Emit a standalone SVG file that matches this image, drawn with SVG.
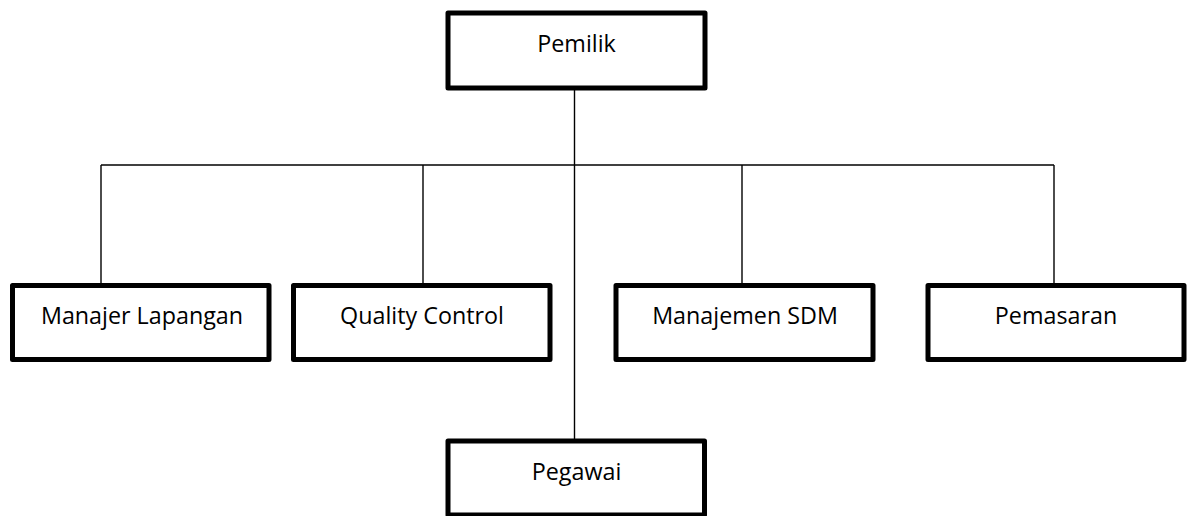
<svg xmlns="http://www.w3.org/2000/svg" width="1192" height="516" viewBox="0 0 1192 516">
<style>
.box{fill:#fff;stroke:#000;stroke-width:5;stroke-linejoin:round}
.lbl{font-family:"Open Sans","Liberation Sans",sans-serif;font-size:23.3px;fill:#000;text-anchor:middle}
.conn{stroke:#000;stroke-width:1.4;fill:none}
</style>
<rect width="1192" height="516" fill="#fff"/>
<g id="connectors">
<line class="conn" x1="574.5" y1="90" x2="574.5" y2="441"/>
<line class="conn" x1="101" y1="165" x2="1054" y2="165"/>
<line class="conn" x1="101" y1="165" x2="101" y2="284"/>
<line class="conn" x1="423" y1="165" x2="423" y2="284"/>
<line class="conn" x1="742" y1="165" x2="742" y2="284"/>
<line class="conn" x1="1054" y1="165" x2="1054" y2="284"/>
</g>
<g id="pemilik">
<rect class="box" x="448" y="13" width="257" height="75"/>
<text class="lbl" x="576.5" y="52">Pemilik</text>
</g>
<g id="manajer-lapangan">
<rect class="box" x="12.5" y="285.5" width="256.5" height="74"/>
<text class="lbl" x="142" y="324">Manajer Lapangan</text>
</g>
<g id="quality-control">
<rect class="box" x="293.5" y="285.5" width="256.5" height="74"/>
<text class="lbl" x="422" y="324">Quality Control</text>
</g>
<g id="manajemen-sdm">
<rect class="box" x="616" y="285.5" width="257" height="74"/>
<text class="lbl" x="745" y="324">Manajemen SDM</text>
</g>
<g id="pemasaran">
<rect class="box" x="928" y="285.5" width="256" height="74"/>
<text class="lbl" x="1056" y="324">Pemasaran</text>
</g>
<g id="pegawai">
<rect class="box" x="448" y="441" width="256.5" height="74"/>
<text class="lbl" x="576.5" y="480">Pegawai</text>
</g>
</svg>
